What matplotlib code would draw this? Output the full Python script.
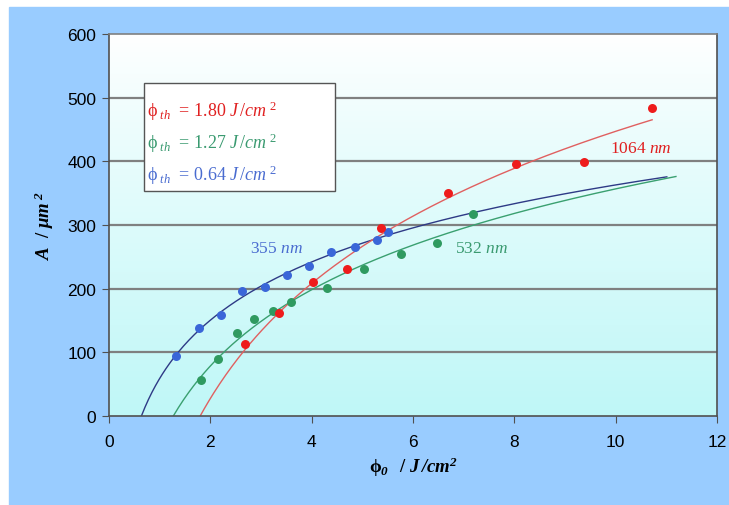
import numpy as np
import matplotlib.pyplot as plt
from matplotlib.patches import Rectangle

plt.rcParams['mathtext.fontset'] = 'custom'
plt.rcParams['mathtext.rm'] = 'Liberation Serif'
plt.rcParams['mathtext.it'] = 'Liberation Serif:italic'
plt.rcParams['mathtext.bf'] = 'Liberation Serif:bold'
plt.rcParams['mathtext.bfit'] = 'Liberation Serif:italic:bold'

# data
phi_355 = [1.32, 1.77, 2.22, 2.63, 3.08, 3.52, 3.95, 4.39, 4.85, 5.29, 5.50]
area_355 = [95, 139, 159, 196, 203, 222, 236, 258, 266, 276, 289]

phi_532 = [1.81, 2.16, 2.52, 2.87, 3.24, 3.60, 4.30, 5.04, 5.76, 6.47, 7.19]
area_532 = [57, 90, 131, 152, 165, 179, 201, 231, 254, 272, 318]

phi_1064 = [2.68, 3.35, 4.02, 4.69, 5.36, 6.69, 8.03, 9.38, 10.72]
area_1064 = [113, 161, 210, 231, 296, 351, 396, 399, 484]

# threshold fluences from the legend and end of each fit line
phi_th = {'355': 0.64, '532': 1.27, '1064': 1.80}
fit_end = {'355': 11.01, '532': 11.19, '1064': 10.72}

series = [
    ('355', phi_355, area_355, '#3a66d8', '#2e3a86'),
    ('532', phi_532, area_532, '#2f9a60', '#3aa070'),
    ('1064', phi_1064, area_1064, '#ee1c1c', '#e06060'),
]

fig = plt.figure(figsize=(7.29, 5.06), dpi=100, facecolor='white')
fig.patches.append(Rectangle((9 / 729, 0), 1, (506 - 8) / 506,
                             transform=fig.transFigure, color='#99ccff', zorder=-10))
ax = fig.add_axes([0.1495, 0.1759, 0.834, 0.7549])

# background gradient white (top) -> light cyan (bottom)
grad = np.linspace(0, 1, 256).reshape(-1, 1)
top = np.array([1.0, 1.0, 1.0])
bot = np.array([0.75, 0.97, 0.97])
img = top + (bot - top) * grad[:, :, None] ** 0.9
ax.imshow(img, extent=[0, 12, 0, 600], origin='upper', aspect='auto', zorder=0)
ax.set_ylim(0, 600)
ax.set_xlim(0, 12)

for y in range(100, 600, 100):
    ax.axhline(y, color='#7f8080', lw=1.6, zorder=1)

for name, x, a, mc, lc in series:
    x = np.array(x)
    a = np.array(a)
    L = np.log(x / phi_th[name])
    k = np.sum(a * L) / np.sum(L * L)
    xf = np.linspace(phi_th[name], fit_end[name], 300)
    ax.plot(xf, k * np.log(xf / phi_th[name]), color=lc, lw=1.0, zorder=2)
    ax.scatter(x, a, s=42, color=mc, zorder=3, linewidths=0)

tf = 'Liberation Serif'
ax.text(3.3, 264, r'355 $nm$', color='#4a6cd0', fontsize=12.5, family=tf,
        ha='center', va='center', zorder=4)
ax.text(7.35, 264, r'532 $nm$', color='#3a9a70', fontsize=12.5, family=tf,
        ha='center', va='center', zorder=4)
ax.text(10.5, 421, r'1064 $nm$', color='#e02020', fontsize=12.5, family=tf,
        ha='center', va='center', zorder=4)

# legend box
ax.add_patch(Rectangle((0.70, 353), 3.77, 170, facecolor='white',
                       edgecolor='#555555', lw=1.0, zorder=5))
leg = [('1.80', '#e02020', 480), ('1.27', '#3a9a70', 430), ('0.64', '#4a6cd0', 380)]
for val, c, yy in leg:
    ax.text(0.76, yy, r'$\mathrm{\phi}_{\ th}$  = ' + val + r' $J\,/cm^{\ 2}$',
            color=c, fontsize=13, family=tf, va='center', zorder=6)

for s in ax.spines.values():
    s.set_color('#505050')
    s.set_linewidth(1.2)
ax.spines['top'].set_color('#7f8080')

ax.set_xticks(range(0, 13, 2))
ax.set_yticks(range(0, 601, 100))
ax.tick_params(direction='out', length=5, color='#505050', labelsize=12.5,
               pad=4)
for lab in ax.get_xticklabels() + ax.get_yticklabels():
    lab.set_family('Liberation Sans')
ax.tick_params(axis='x', pad=8)

ax.set_xlabel(r'$\mathbf{\phi}_{\mathbfit{0}}$  $\mathbf{/}\ \mathbfit{J\,/cm^{2}}$',
              fontsize=13.5, labelpad=4)
ax.set_ylabel(r'$\mathbfit{A}\ \ \mathbf{/}\ \mathbfit{\mu m^{\ 2}}$', fontsize=13.5,
              labelpad=8)

fig.savefig('out.png', dpi=100, facecolor=fig.get_facecolor())
